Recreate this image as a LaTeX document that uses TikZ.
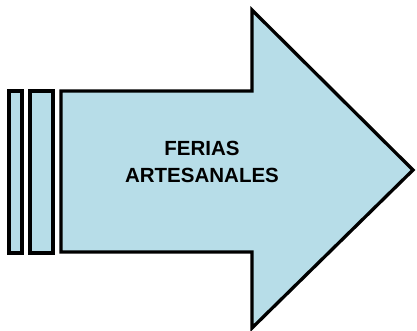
\documentclass[tikz,border=0pt]{standalone}
\usepackage{fontspec}
\setmainfont{Liberation Sans}
\definecolor{arrowblue}{RGB}{183,221,232}
\begin{document}
\begin{tikzpicture}[x=1pt, y=-1pt, line join=miter,
	bar/.style={draw=black, line width=3.3pt, fill=arrowblue},
	lbl/.style={font=\bfseries\fontsize{20.5}{27}\selectfont, align=center}]
	\useasboundingbox (0,0) rectangle (417,330);
	\draw[bar] (9,91) rectangle (22,253);
	\draw[bar] (30,91) rectangle (53,253);
	\draw[bar] (61,91) -- (252,91) -- (252,10) -- (413,170) -- (252,328) -- (252,252) -- (61,252) -- cycle;
	\node[lbl] (feria) at (202,162) {FERIAS\\ARTESANALES};
\end{tikzpicture}
\end{document}
